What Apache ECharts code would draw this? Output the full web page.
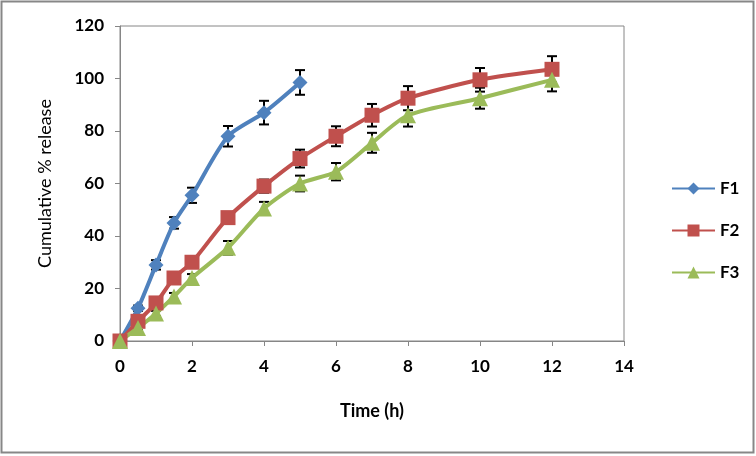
<!DOCTYPE html>
<html>
<head>
<meta charset="utf-8">
<script src="https://cdn.jsdelivr.net/npm/echarts@6/dist/echarts.min.js"></script>
<style>
html,body{margin:0;padding:0;background:#fff;}
#c{width:756px;height:456px;}
</style>
</head>
<body>
<div id="c"></div>
<script>
// Data
const timeF1 = [0, 0.5, 1, 1.5, 2, 3, 4, 5];
const timeF23 = [0, 0.5, 1, 1.5, 2, 3, 4, 5, 6, 7, 8, 10, 12];
const F1 = [0, 12.5, 29, 45, 55.5, 78, 87, 98.5];
const F1err = [0, 1, 1.8, 2.2, 2.9, 3.9, 4.5, 4.7];
const F2 = [0, 7.5, 14.5, 24, 30, 47, 59, 69.5, 78, 86, 92.5, 99.5, 103.5];
const F2err = [0, 1, 1.2, 1.5, 1.7, 2, 2.5, 3.4, 3.8, 4.3, 4.6, 4.5, 5];
const F3 = [0, 5, 10.5, 17, 24, 35.5, 50.5, 60, 64.5, 75.5, 86, 92.5, 99.5];
const F3err = [0, 0.8, 1, 1.3, 1.5, 2.6, 2.5, 3, 3.3, 3.8, 4.3, 4, 4.4];
const xTicks = { min: 0, max: 14, interval: 2 };
const yTicks = { min: 0, max: 120, interval: 20 };

const FONT = 'Lato, "Liberation Sans", sans-serif';
const AX = '#868686';

function pairs(xs, ys) { return xs.map((x, i) => [x, ys[i]]); }
function errData(xs, ys, es) { return xs.map((x, i) => [x, ys[i] - es[i], ys[i] + es[i]]); }

function errSeries(xs, ys, es) {
  return {
    type: 'custom',
    z: 1,
    silent: true,
    data: errData(xs, ys, es),
    renderItem: function (params, api) {
      const x = api.value(0);
      const lo = api.coord([x, api.value(1)]);
      const hi = api.coord([x, api.value(2)]);
      const w = 5;
      const st = { stroke: '#000', lineWidth: 2 };
      return {
        type: 'group',
        children: [
          { type: 'line', shape: { x1: lo[0], y1: lo[1], x2: hi[0], y2: hi[1] }, style: st },
          { type: 'line', shape: { x1: lo[0] - w, y1: lo[1], x2: lo[0] + w, y2: lo[1] }, style: st },
          { type: 'line', shape: { x1: hi[0] - w, y1: hi[1], x2: hi[0] + w, y2: hi[1] }, style: st }
        ]
      };
    }
  };
}

function lineSeries(name, data, color, symbol, size) {
  return {
    name: name,
    type: 'line',
    z: 3,
    smooth: 0.25,
    data: data,
    symbol: symbol,
    symbolSize: size,
    showAllSymbol: true,
    lineStyle: { color: color, width: 4 },
    itemStyle: { color: color },
    emphasis: { disabled: true }
  };
}

const chart = echarts.init(document.getElementById('c'), null, { renderer: 'canvas' });
chart.setOption({
  animation: false,
  backgroundColor: '#fff',
  graphic: [{
    type: 'rect',
    shape: { x: 1.5, y: 1.5, width: 752, height: 451 },
    style: { fill: 'none', stroke: '#878787', lineWidth: 2 },
    silent: true
  }],
  grid: { left: 120, right: 132, top: 26, bottom: 115, show: true, borderColor: AX, borderWidth: 1, backgroundColor: 'transparent' },
  legend: {
    orient: 'vertical',
    left: 666,
    top: 175,
    itemWidth: 43,
    itemHeight: 15,
    itemGap: 25,
    data: ['F1', 'F2', 'F3'],
    textStyle: { fontFamily: FONT, fontSize: 17, fontWeight: 'bold', color: '#000' }
  },
  xAxis: {
    type: 'value',
    min: xTicks.min, max: xTicks.max, interval: xTicks.interval,
    name: 'Time (h)',
    nameLocation: 'middle',
    nameGap: 61,
    nameTextStyle: { fontFamily: FONT, fontSize: 18, fontWeight: 'bold', color: '#000' },
    axisLine: { lineStyle: { color: AX, width: 1 } },
    axisTick: { show: true, inside: false, length: 5, lineStyle: { color: AX } },
    axisLabel: { margin: 17, fontFamily: FONT, fontSize: 17, fontWeight: 'bold', color: '#000' },
    splitLine: { show: false }
  },
  yAxis: {
    type: 'value',
    min: yTicks.min, max: yTicks.max, interval: yTicks.interval,
    name: 'Cumulative % release',
    nameLocation: 'middle',
    nameRotate: 90,
    nameGap: 66,
    nameTextStyle: { fontFamily: FONT, fontSize: 18, fontWeight: 'normal', color: '#000' },
    axisLine: { show: true, lineStyle: { color: AX, width: 1 } },
    axisTick: { show: true, inside: false, length: 5, lineStyle: { color: AX } },
    axisLabel: { margin: 16, fontFamily: FONT, fontSize: 17, fontWeight: 'bold', color: '#000' },
    splitLine: { show: false }
  },
  series: [
    errSeries(timeF1, F1, F1err),
    errSeries(timeF23, F2, F2err),
    errSeries(timeF23, F3, F3err),
    lineSeries('F1', pairs(timeF1, F1), '#4F81BD', 'diamond', 15),
    lineSeries('F2', pairs(timeF23, F2), '#C0504D', 'rect', 15),
    lineSeries('F3', pairs(timeF23, F3), '#9BBB59', 'triangle', 16)
  ]
});
</script>
</body>
</html>
